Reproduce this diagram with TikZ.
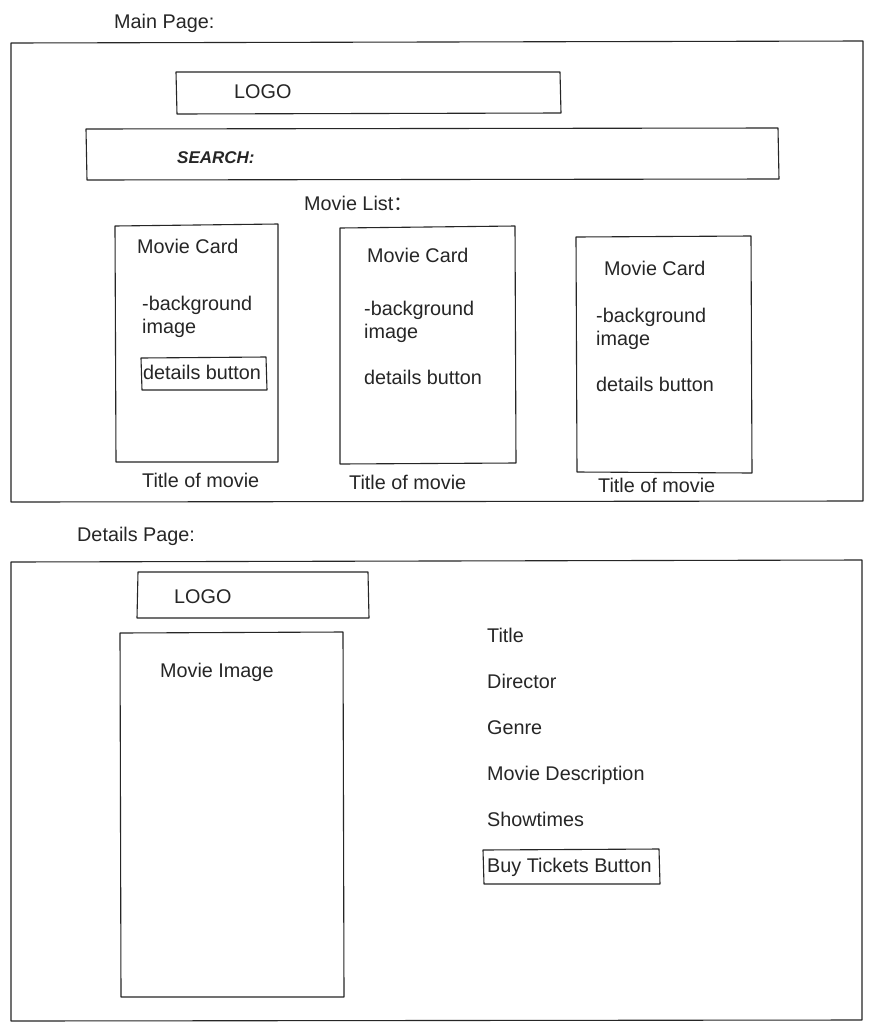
\documentclass[tikz,border=0pt]{standalone}
\usepackage{fontspec}
\setmainfont{Liberation Sans}
\newfontfamily\cjk{Noto Sans CJK SC}
\begin{document}
\begin{tikzpicture}[x=1pt,y=-1pt,
  sketch/.style={draw=black!85,line width=1.1pt,line join=round},
  lbl/.style={anchor=base west,inner sep=0pt,font=\fontsize{19.8}{22}\selectfont,text=black!85},
  handfont/.style={anchor=base west,inner sep=0pt,font=\fontsize{17}{19}\selectfont\bfseries\itshape,text=black!85}]
\useasboundingbox (0,0) rectangle (873,1031);
\fill[white] (0,0) rectangle (873,1031);

% ---------- main page ----------
\node[lbl] (mainlbl) at (114,28) {Main Page:};
\draw[sketch] (11,43) -- (863,41) -- (863,501) -- (11,502) -- cycle;

\draw[sketch] (176,72) -- (560,72) -- (561,113) -- (177,114) -- cycle;
\node[lbl] (logo1) at (234,98) {LOGO};

\draw[sketch] (86,129) -- (778,128) -- (779,179) -- (87,180) -- cycle;
\node[handfont] (search) at (177,163) {SEARCH:};

\node[lbl] (movielist) at (304,210) {Movie List\cjk{：}};

% card 1
\draw[sketch] (115,226) -- (278,224) -- (278,462) -- (116,462) -- cycle;
\node[lbl] (c1title) at (137,253) {Movie Card};
\node[lbl] (c1bg) at (142,310) {-background};
\node[lbl] (c1img) at (142,333) {image};
\draw[sketch] (141,358) -- (266,357) -- (267,390) -- (142,390) -- cycle;
\node[lbl] (c1btn) at (143,379) {details button};
\node[lbl] (c1name) at (142,487) {Title of movie};

% card 2
\draw[sketch] (340,228) -- (515,226) -- (516,463) -- (340,464) -- cycle;
\node[lbl] (c2title) at (367,262) {Movie Card};
\node[lbl] (c2bg) at (364,315) {-background};
\node[lbl] (c2img) at (364,338) {image};
\node[lbl] (c2btn) at (364,384) {details button};
\node[lbl] (c2name) at (349,489) {Title of movie};

% card 3
\draw[sketch] (576,237) -- (751,236) -- (752,473) -- (577,472) -- cycle;
\node[lbl] (c3title) at (604,275) {Movie Card};
\node[lbl] (c3bg) at (596,322) {-background};
\node[lbl] (c3img) at (596,345) {image};
\node[lbl] (c3btn) at (596,391) {details button};
\node[lbl] (c3name) at (598,492) {Title of movie};

% ---------- details page ----------
\node[lbl] (detlbl) at (77,541) {Details Page:};
\draw[sketch] (11,562) -- (862,560) -- (862,1020) -- (11,1021) -- cycle;

\draw[sketch] (138,572) -- (368,572) -- (369,618) -- (137,618) -- cycle;
\node[lbl] (logo2) at (174,603) {LOGO};

\draw[sketch] (120,633) -- (343,632) -- (344,997) -- (121,997) -- cycle;
\node[lbl] (movimg) at (160,677) {Movie Image};

\node[lbl] (dtitle) at (487,642) {Title};
\node[lbl] (ddir) at (487,688) {Director};
\node[lbl] (dgenre) at (487,734) {Genre};
\node[lbl] (ddesc) at (487,780) {Movie Description};
\node[lbl] (dshow) at (487,826) {Showtimes};
\draw[sketch] (483,850) -- (659,849) -- (660,884) -- (484,884) -- cycle;
\node[lbl] (dbuy) at (487,872) {Buy Tickets Button};
\end{tikzpicture}
\end{document}
